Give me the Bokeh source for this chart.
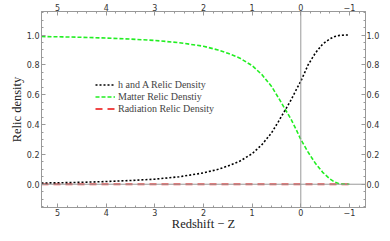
from bokeh.plotting import figure
from bokeh.models import (Range1d, LinearAxis, SingleIntervalTicker, Span, Legend,
                          LegendItem, CustomJSTickFormatter, PrintfTickFormatter)
from bokeh.embed import file_html
from bokeh.resources import INLINE

# Redshift samples
z_vals = [5.33, 4.9, 4.5, 4.0, 3.5, 3.0, 2.5, 2.0, 1.7, 1.5, 1.25, 1.0, 0.8, 0.6, 0.46,
          0.325, 0.2, 0.1, 0.0, -0.15, -0.3, -0.45, -0.6, -0.7, -0.8, -0.9, -1.0]
# h and A relic density
ha_vals = [0.008, 0.010, 0.013, 0.018, 0.025, 0.034, 0.050, 0.076, 0.100, 0.122, 0.155,
           0.205, 0.265, 0.345, 0.42, 0.495, 0.565, 0.63, 0.69, 0.80, 0.88, 0.94,
           0.975, 0.99, 0.998, 1.0, 1.0]
# Matter relic density
matter_vals = [0.99, 0.988, 0.985, 0.98, 0.973, 0.964, 0.949, 0.925, 0.90, 0.878, 0.845,
               0.795, 0.735, 0.655, 0.58, 0.505, 0.435, 0.37, 0.30, 0.215, 0.14, 0.08,
               0.035, 0.014, 0.002, 0.0, 0.0]
# Radiation relic density
rad_vals = [0.0] * len(z_vals)

x_ticks_interval = 1
y_ticks_interval = 0.2

p = figure(width=382, height=233, x_range=Range1d(5.33, -1.33), y_range=Range1d(-0.156, 1.158),
           output_backend="svg", toolbar_location=None,
           min_border_left=41, min_border_right=14, min_border_top=4, min_border_bottom=4)
p.grid.visible = False
p.outline_line_color = "#999999"
p.background_fill_color = "white"
p.border_fill_color = "white"

p.add_layout(Span(location=0, dimension="height", line_color="#999999", line_width=1))
p.add_layout(Span(location=0, dimension="width", line_color="#999999", line_width=1))

r_rad = p.line(z_vals, rad_vals, line_color="#ee3333", line_alpha=0.9, line_width=1.8, line_dash="7 5")
r_mat = p.line(z_vals, matter_vals, line_color="#22ee22", line_width=1.6, line_dash="4 2")
r_ha = p.line(z_vals, ha_vals, line_color="black", line_width=1.6, line_dash="2 2")

xfmt = CustomJSTickFormatter(code="return tick < 0 ? '\\u2212' + Math.abs(tick) : tick.toFixed(0);")
yfmt = PrintfTickFormatter(format="%.1f")

top = LinearAxis()
right = LinearAxis()
p.add_layout(top, "above")
p.add_layout(right, "right")

for ax in p.xaxis:
    ax.ticker = SingleIntervalTicker(interval=x_ticks_interval, num_minor_ticks=5)
    ax.formatter = xfmt
for ax in p.yaxis:
    ax.ticker = SingleIntervalTicker(interval=y_ticks_interval, num_minor_ticks=4)
    ax.formatter = yfmt

for ax in list(p.xaxis) + list(p.yaxis):
    ax.axis_line_color = "#999999"
    ax.major_tick_line_color = "#999999"
    ax.minor_tick_line_color = "#999999"
    ax.major_tick_in = 4
    ax.major_tick_out = 0
    ax.minor_tick_in = 2
    ax.minor_tick_out = 0
    ax.major_label_text_font = "DejaVu Sans"
    ax.major_label_text_font_size = "8px"
    ax.major_label_text_color = "#333333"
    ax.major_label_standoff = 2
    ax.axis_label_text_font = "Liberation Serif"
    ax.axis_label_text_font_size = "12.5px"
    ax.axis_label_text_font_style = "normal"
    ax.axis_label_text_color = "#222222"
    ax.axis_label_standoff = 0

p.below[0].axis_label = "Redshift \u2212 Z"
p.below[0].axis_label_standoff = -2
p.below[0].major_label_standoff = 1
p.left[0].axis_label = "Relic density"
top.major_label_standoff = 1
right.major_label_standoff = 1

legend = Legend(items=[LegendItem(label="h and A Relic Density", renderers=[r_ha]),
                       LegendItem(label="Matter Relic Denstiy", renderers=[r_mat]),
                       LegendItem(label="Radiation Relic Density", renderers=[r_rad])],
                location=(54, 93), padding=0, margin=0, spacing=1,
                glyph_width=20, glyph_height=9, label_height=9, label_standoff=3,
                label_text_font="Liberation Serif", label_text_font_size="10px",
                border_line_color=None, background_fill_alpha=0)
p.add_layout(legend)

open("out.html", "w").write(file_html(p, INLINE))
